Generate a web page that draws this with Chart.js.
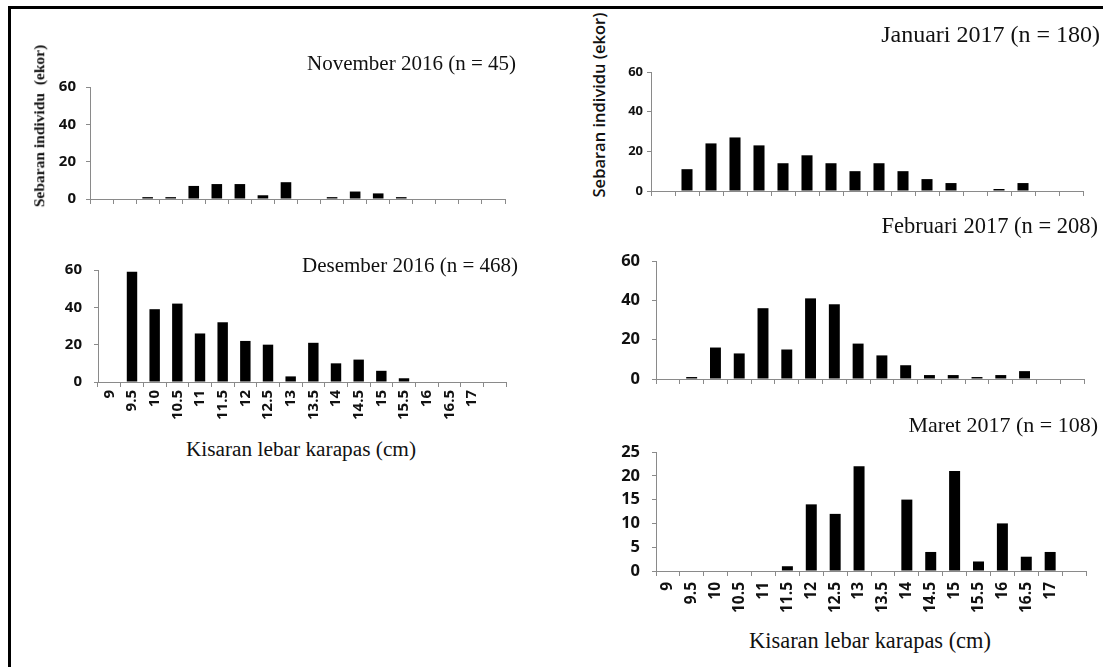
<!DOCTYPE html>
<html><head><meta charset="utf-8">
<script src="https://cdn.jsdelivr.net/npm/chart.js@4.4.1/dist/chart.umd.min.js"></script>
<style>
html,body{margin:0;padding:0;background:#fff;}
body{width:1103px;height:667px;overflow:hidden;position:relative;}
.frame-top{position:absolute;left:8px;top:6px;width:1095px;height:3px;background:#000;}
.frame-left{position:absolute;left:8px;top:6px;width:3px;height:661px;background:#000;}
canvas{position:absolute;}
.t{position:absolute;font-family:"Liberation Serif","Times New Roman",serif;line-height:1;white-space:pre;color:#111;}
.yt{position:absolute;line-height:1;white-space:pre;color:#111;transform:translate(-50%,-50%) rotate(-90deg);}
</style></head>
<body>
<div class="frame-top"></div><div class="frame-left"></div>
<canvas id="cNov"></canvas><canvas id="cDes"></canvas>
<canvas id="cJan"></canvas><canvas id="cFeb"></canvas><canvas id="cMar"></canvas>

<div class="t" style="right:587px;top:53px;font-size:21px;">November 2016 (n = 45)</div>
<div class="t" style="right:585px;top:255px;font-size:21px;">Desember 2016 (n = 468)</div>
<div class="t" style="right:3px;top:22px;font-size:24px;">Januari 2017 (n = 180)</div>
<div class="t" style="right:5px;top:215px;font-size:22.5px;">Februari 2017 (n = 208)</div>
<div class="t" style="right:5px;top:414px;font-size:22px;">Maret 2017 (n = 108)</div>

<div class="t" style="left:301px;top:439px;font-size:21.3px;transform:translateX(-50%);">Kisaran lebar karapas (cm)</div>
<div class="t" style="left:870px;top:630px;font-size:22.4px;transform:translateX(-50%);">Kisaran lebar karapas (cm)</div>

<div class="yt" style="left:39px;top:126px;font-family:'Liberation Serif',serif;font-weight:bold;font-size:15.5px;">Sebaran individu  (ekor)</div>
<div class="yt" style="left:599px;top:105px;font-family:'Open Sans',sans-serif;font-weight:600;font-size:16.5px;">Sebaran individu (ekor)</div>

<script>
const categories = ['9','9.5','10','10.5','11','11.5','12','12.5','13','13.5','14','14.5','15','15.5','16','16.5','17',''];
const nov2016 = [0,0,1,1,7,8,8,2,9,0,1,4,3,1,0,0,0,0];
const des2016 = [0,59,39,42,26,32,22,20,3,21,10,12,6,2,0,0,0,0];
const jan2017 = [0,11,24,27,23,14,18,14,10,14,10,6,4,0,1,4,0,0];
const feb2017 = [0,1,16,13,36,15,41,38,18,12,7,2,2,1,2,4,0,0];
const mar2017 = [0,0,0,0,0,1,14,12,22,0,15,4,21,2,10,3,4,0];

const AXIS = '#8a8a8a';

function makePanel(id, data, o) {
  const cv = document.getElementById(id);
  const w = (o.right - o.left) + o.yw + o.pr;
  const h = (o.bottom - o.top) + o.pt + o.xh;
  cv.width = w; cv.height = h;
  cv.style.left = (o.left - o.yw) + 'px';
  cv.style.top = (o.top - o.pt) + 'px';
  cv.style.width = w + 'px'; cv.style.height = h + 'px';
  new Chart(cv, {
    type: 'bar',
    data: { labels: categories, datasets: [{ data: data, backgroundColor: '#000', borderWidth: 0, barPercentage: 0.46, categoryPercentage: 1 }] },
    options: {
      responsive: false, animation: false, events: [],
      layout: { padding: { left: 0, right: o.pr, top: o.pt, bottom: 0 } },
      plugins: { legend: { display: false }, tooltip: { enabled: false }, title: { display: false } },
      scales: {
        x: {
          grid: { display: true, drawOnChartArea: false, drawTicks: true, tickLength: 5, color: AXIS, offset: true },
          border: { display: true, color: AXIS, width: 1 },
          ticks: { display: o.showX, autoSkip: false, maxRotation: 90, minRotation: 90, padding: o.xp || 3, color: '#111',
                   font: { family: 'Open Sans', size: o.xsize, weight: 'bold' } },
          afterFit: function (s) { s.height = o.xh; }
        },
        y: {
          min: 0, max: o.max,
          ticks: { stepSize: o.step, autoSkip: false, padding: o.yp, color: '#111', font: { family: 'Open Sans', size: o.ysize, weight: 'bold' } },
          grid: { display: true, drawOnChartArea: false, drawTicks: true, tickLength: 4, color: AXIS },
          border: { display: true, color: AXIS, width: 1 },
          afterFit: function (s) { s.width = o.yw; }
        }
      }
    }
  });
}

makePanel('cNov', nov2016, { left: 90, right: 505, top: 87, bottom: 199, yw: 50, pr: 20, pt: 26, xh: 26, showX: false, max: 60, step: 20, yp: 10, ysize: 15, xsize: 15 });
makePanel('cDes', des2016, { left: 98, right: 506, top: 270, bottom: 382, yw: 50, pr: 20, pt: 26, xh: 48, showX: true, max: 60, step: 20, yp: 12, ysize: 15, xsize: 15, xp: 3 });
makePanel('cJan', jan2017, { left: 651, right: 1083, top: 72, bottom: 191, yw: 40, pr: 18, pt: 26, xh: 26, showX: false, max: 60, step: 20, yp: 4, ysize: 13, xsize: 13 });
makePanel('cFeb', feb2017, { left: 656, right: 1084, top: 261, bottom: 379, yw: 50, pr: 18, pt: 26, xh: 26, showX: false, max: 60, step: 20, yp: 12, ysize: 16.5, xsize: 15 });
makePanel('cMar', mar2017, { left: 656, right: 1086, top: 452, bottom: 571, yw: 50, pr: 16, pt: 26, xh: 50, showX: true, max: 25, step: 5, yp: 12, ysize: 16.5, xsize: 15.5, xp: 6 });
</script>
</body></html>
